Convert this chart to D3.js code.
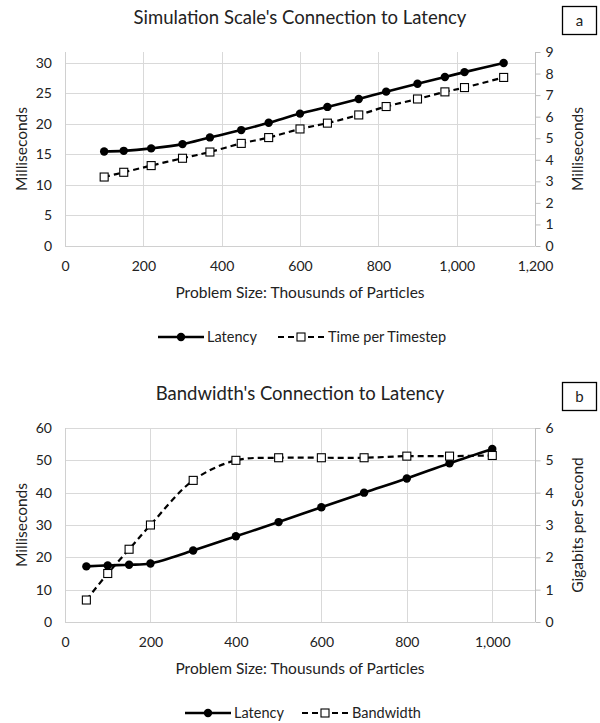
<!DOCTYPE html>
<html><head><meta charset="utf-8">
<script src="https://cdn.jsdelivr.net/npm/d3@7"></script>
<style>body{margin:0;background:#fff}svg{display:block}text{font-family:Lato,"Open Sans",sans-serif;fill:#222}</style>
</head><body>
<script>
// Chart a data
const sizesA = [100,150,220,300,370,450,520,600,670,750,820,900,970,1020,1120];
const latencyA = [15.5,15.6,16.0,16.7,17.8,19.0,20.2,21.7,22.8,24.1,25.3,26.6,27.7,28.5,30.0];
const timestepA = [3.2,3.42,3.73,4.07,4.36,4.76,5.03,5.43,5.7,6.08,6.47,6.82,7.15,7.35,7.82];
const xTicksA = [0,200,400,600,800,1000,1200];
const yLeftTicksA = [0,5,10,15,20,25,30];
const yRightTicksA = [0,1,2,3,4,5,6,7,8,9];
// Chart b data
const sizesB = [50,100,150,200,300,400,500,600,700,800,900,1000];
const latencyB = [17.2,17.5,17.7,18.1,22.1,26.5,30.9,35.5,40.0,44.4,49.1,53.5];
const bandwidthB = [0.68,1.5,2.25,3.0,4.38,5.0,5.08,5.08,5.08,5.13,5.13,5.15];
const xTicksB = [0,200,400,600,800,1000];
const yLeftTicksB = [0,10,20,30,40,50,60];
const yRightTicksB = [0,1,2,3,4,5,6];

const svg = d3.select("body").append("svg").attr("width",600).attr("height",723);

function chart(cfg){
  const g = svg.append("g").attr("transform",`translate(0,${cfg.oy})`);
  const L=65,R=535,T=52,B=246;
  const x = d3.scaleLinear().domain(cfg.xDomain).range([L,R]);
  const yl = d3.scaleLinear().domain(cfg.ylDomain).range([B,T]);
  const yr = d3.scaleLinear().domain(cfg.yrDomain).range([B,T]);
  // title
  g.append("text").attr("x",300).attr("y",24).attr("text-anchor","middle").attr("font-size",18.5).text(cfg.title);
  g.append("rect").attr("x",562.5).attr("y",6.5).attr("width",34).attr("height",28).attr("fill","#fff").attr("stroke","#000").attr("stroke-width",1.3);
  g.append("text").attr("x",579.5).attr("y",26).attr("text-anchor","middle").attr("font-size",15).text(cfg.tag);
  // gridlines
  g.append("g").selectAll("line").data(cfg.yLeftTicks.filter(d=>d>0)).join("line")
    .attr("x1",L).attr("x2",R).attr("y1",d=>Math.round(yl(d))+0.5).attr("y2",d=>Math.round(yl(d))+0.5)
    .attr("stroke","#d9d9d9").attr("stroke-width",1);
  g.append("g").selectAll("line").data(cfg.xTicks.filter(d=>d>0)).join("line")
    .attr("y1",T).attr("y2",B).attr("x1",d=>Math.round(x(d))+0.5).attr("x2",d=>Math.round(x(d))+0.5)
    .attr("stroke","#d9d9d9").attr("stroke-width",1);
  // axes lines
  g.append("line").attr("x1",L+0.5).attr("x2",L+0.5).attr("y1",T).attr("y2",B).attr("stroke","#d0d0d0");
  g.append("line").attr("x1",L).attr("x2",R).attr("y1",B+0.5).attr("y2",B+0.5).attr("stroke","#d0d0d0");
  // left axis labels
  const ya = d3.axisLeft(yl).tickValues(cfg.yLeftTicks).tickSize(0).tickPadding(13).tickFormat(d3.format("d"));
  const gl = g.append("g").attr("transform",`translate(${L},0)`).call(ya);
  gl.select(".domain").remove();
  gl.selectAll("text").attr("font-size",14).attr("font-family","Lato,sans-serif").attr("fill","#222");
  // right axis
  const yra = d3.axisRight(yr).tickValues(cfg.yRightTicks).tickSize(5).tickPadding(5).tickFormat(d3.format("d"));
  const gr = g.append("g").attr("transform",`translate(${R+0.5},0)`).call(yra);
  gr.select(".domain").attr("stroke","#bfbfbf").attr("d",`M0,${T}V${B}`);
  gr.selectAll(".tick line").attr("stroke","#bfbfbf");
  gr.selectAll("text").attr("font-size",14).attr("font-family","Lato,sans-serif").attr("fill","#222");
  // x axis labels
  const xa = d3.axisBottom(x).tickValues(cfg.xTicks).tickSize(0).tickPadding(15).tickFormat(d3.format(","));
  const gx = g.append("g").attr("transform",`translate(0,${B})`).call(xa);
  gx.select(".domain").remove();
  gx.selectAll("text").attr("font-size",14).attr("font-family","Lato,sans-serif").attr("fill","#222");
  // axis titles
  g.append("text").attr("x",300).attr("y",298).attr("text-anchor","middle").attr("font-size",15.5).text("Problem Size: Thousunds of Particles");
  g.append("text").attr("transform",`translate(27,${(T+B)/2}) rotate(-90)`).attr("text-anchor","middle").attr("font-size",15.5).text(cfg.leftTitle);
  g.append("text").attr("transform",`translate(583,${(T+B)/2}) rotate(-90)`).attr("text-anchor","middle").attr("font-size",15.5).text(cfg.rightTitle);
  // series
  const l1 = d3.line().x(d=>x(d[0])).y(d=>yl(d[1])).curve(d3.curveCatmullRom.alpha(0.5));
  const l2 = d3.line().x(d=>x(d[0])).y(d=>yr(d[1])).curve(d3.curveCatmullRom.alpha(0.5));
  const d1 = cfg.xs.map((v,i)=>[v,cfg.s1[i]]);
  const d2 = cfg.xs.map((v,i)=>[v,cfg.s2[i]]);
  g.append("path").attr("d",l2(d2)).attr("fill","none").attr("stroke","#000").attr("stroke-width",2.2).attr("stroke-dasharray","6,4");
  g.append("path").attr("d",l1(d1)).attr("fill","none").attr("stroke","#000").attr("stroke-width",2.6);
  g.append("g").selectAll("circle").data(d1).join("circle").attr("cx",d=>x(d[0])).attr("cy",d=>yl(d[1])).attr("r",4.2).attr("fill","#000");
  g.append("g").selectAll("rect").data(d2).join("rect").attr("x",d=>x(d[0])-4).attr("y",d=>yr(d[1])-4).attr("width",8).attr("height",8).attr("fill","#fff").attr("stroke","#000").attr("stroke-width",1.1);
  // legend
  const ly = 337;
  const lg = g.append("g");
  lg.append("line").attr("x1",cfg.leg[0]).attr("x2",cfg.leg[0]+46).attr("y1",ly).attr("y2",ly).attr("stroke","#000").attr("stroke-width",2.6);
  lg.append("circle").attr("cx",cfg.leg[0]+23).attr("cy",ly).attr("r",4.2).attr("fill","#000");
  lg.append("text").attr("x",cfg.leg[0]+49).attr("y",ly+5).attr("font-size",14.5).text(cfg.n1);
  lg.append("line").attr("x1",cfg.leg[1]).attr("x2",cfg.leg[1]+46).attr("y1",ly).attr("y2",ly).attr("stroke","#000").attr("stroke-width",2.2).attr("stroke-dasharray","6,4");
  lg.append("rect").attr("x",cfg.leg[1]+19).attr("y",ly-4).attr("width",8).attr("height",8).attr("fill","#fff").attr("stroke","#000").attr("stroke-width",1.1);
  lg.append("text").attr("x",cfg.leg[1]+50).attr("y",ly+5).attr("font-size",14.5).text(cfg.n2);
}

chart({oy:0,title:"Simulation Scale's Connection to Latency",tag:"a",xDomain:[0,1200],ylDomain:[0,31.8],yrDomain:[0,9],
  xTicks:xTicksA,yLeftTicks:yLeftTicksA,yRightTicks:yRightTicksA,leftTitle:"Milliseconds",rightTitle:"Milliseconds",
  xs:sizesA,s1:latencyA,s2:timestepA,n1:"Latency",n2:"Time per Timestep",leg:[158,278]});
chart({oy:376,title:"Bandwidth's Connection to Latency",tag:"b",xDomain:[0,1100],ylDomain:[0,60],yrDomain:[0,6],
  xTicks:xTicksB,yLeftTicks:yLeftTicksB,yRightTicks:yRightTicksB,leftTitle:"Milliseconds",rightTitle:"Gigabits per Second",
  xs:sizesB,s1:latencyB,s2:bandwidthB,n1:"Latency",n2:"Bandwidth",leg:[185,302]});
</script>
</body></html>
